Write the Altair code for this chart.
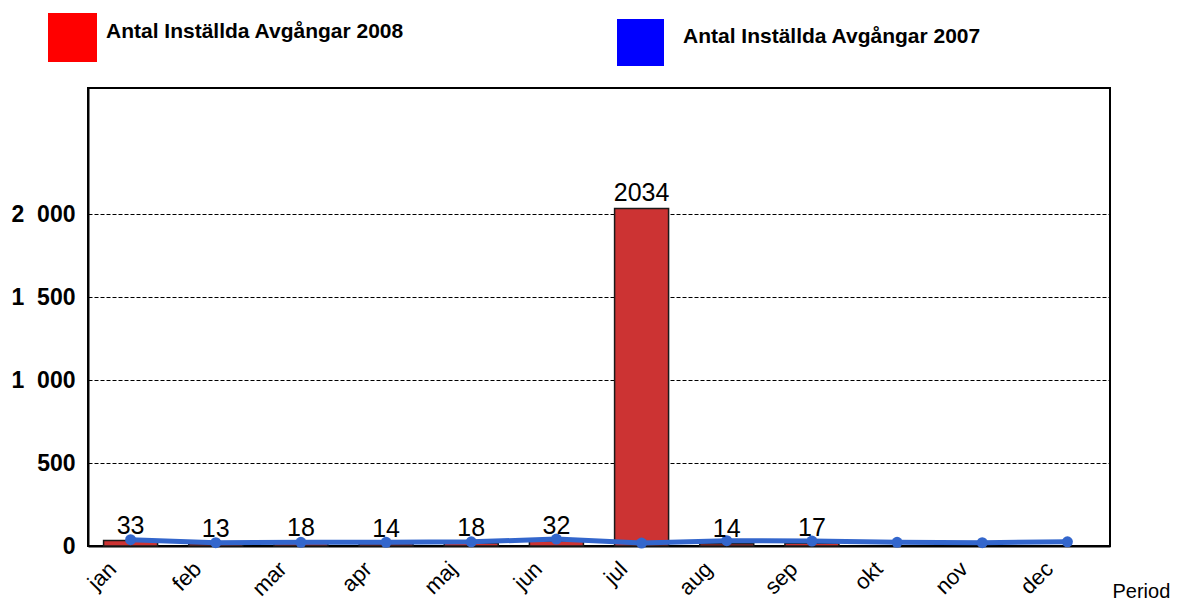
import altair as alt
import pandas as pd

months = ["jan", "feb", "mar", "apr", "maj", "jun", "jul", "aug", "sep", "okt", "nov", "dec"]
values_2008 = [33, 13, 18, 14, 18, 32, 2034, 14, 17, None, None, None]
values_2007 = [38, 20, 22, 22, 25, 42, 18, 32, 30, 22, 20, 25]
series_2008 = "Antal Inställda Avgångar 2008"
series_2007 = "Antal Inställda Avgångar 2007"
y_ticks = [0, 500, 1000, 1500, 2000]

df = pd.DataFrame({"month": months, "v2008": values_2008, "v2007": values_2007})

FONT = "Liberation Sans"

x_enc = alt.X(
    "month:N",
    sort=months,
    scale=alt.Scale(paddingInner=0.366, paddingOuter=0.183),
    axis=alt.Axis(
        title="Period",
        titleX=1024,
        titleY=51,
        titleAlign="left",
        titleAnchor="start",
        titleBaseline="alphabetic",
        titleFont=FONT,
        titleFontSize=20,
        titleFontWeight="normal",
        titleColor="black",
        labelAngle=-45,
        labelAlign="right",
        labelBaseline="top",
        labelFont=FONT,
        labelFontSize=22,
        labelColor="black",
        labelPadding=12,
        labelOffset=-25,
        ticks=False,
        domainColor="black",
        domainWidth=2,
        grid=False,
    ),
)

y_scale = alt.Scale(domain=[0, 2760], nice=False)
y_axis = alt.Axis(
    title=None,
    values=y_ticks,
    labelExpr="replace(format(datum.value, ','), ',', '\u2007')",
    labelFont=FONT,
    labelFontSize=23,
    labelFontWeight="bold",
    labelColor="black",
    labelPadding=13,
    ticks=False,
    domainColor="black",
    domainWidth=2,
    grid=True,
    gridColor="black",
    gridDash=[4, 2],
    gridWidth=1,
    gridOpacity=1,
)

base = alt.Chart(df)

bars = base.mark_bar(fill="#cc3333", stroke="#1a1a1a", strokeWidth=1.5).encode(
    x=x_enc,
    y=alt.Y("v2008:Q", scale=y_scale, axis=y_axis),
)

line = base.mark_line(color="#3366cc", strokeWidth=5).encode(
    x=alt.X("month:N", sort=months),
    y=alt.Y("v2007:Q", scale=y_scale),
)

points = base.mark_circle(color="#3366cc", size=120, opacity=1).encode(
    x=alt.X("month:N", sort=months),
    y=alt.Y("v2007:Q", scale=y_scale),
)

labels = base.transform_filter("isValid(datum.v2008)").mark_text(
    font=FONT, fontSize=25, color="black", baseline="alphabetic", dy=-7
).encode(
    x=alt.X("month:N", sort=months),
    y=alt.Y("v2008:Q", scale=y_scale),
    text=alt.Text("v2008:Q"),
)

leg1 = alt.Chart(pd.DataFrame({"series": [series_2008]})).mark_square(opacity=0).encode(
    color=alt.Color(
        "series:N",
        scale=alt.Scale(domain=[series_2008], range=["#ff0000"]),
        legend=alt.Legend(
            title=None,
            orient="none",
            legendX=-40,
            legendY=-75,
            padding=0,
            symbolType="square",
            symbolSize=2401,
            symbolOpacity=1,
            symbolStrokeWidth=0,
            labelFont=FONT,
            labelFontSize=21,
            labelFontWeight="bold",
            labelColor="black",
            labelBaseline="alphabetic",
            labelOffset=9,
            labelLimit=600,
        ),
    )
)

leg2 = alt.Chart(pd.DataFrame({"series": [series_2007]})).mark_square(opacity=0).encode(
    fill=alt.Fill(
        "series:N",
        scale=alt.Scale(domain=[series_2007], range=["#0000ff"]),
        legend=alt.Legend(
            title=None,
            orient="none",
            legendX=529,
            legendY=-69,
            padding=0,
            symbolType="square",
            symbolSize=2209,
            symbolOpacity=1,
            symbolStrokeWidth=0,
            labelFont=FONT,
            labelFontSize=21,
            labelFontWeight="bold",
            labelColor="black",
            labelBaseline="alphabetic",
            labelOffset=19,
            labelLimit=600,
        ),
    )
)

chart = (
    alt.layer(bars, line, points, labels, leg1, leg2)
    .resolve_scale(color="independent", fill="independent")
    .properties(
        width=1022,
        height=458,
        autosize=alt.AutoSizeParams(type="none"),
        padding={"left": 80, "top": 80, "right": 67, "bottom": 55},
        background="white",
    )
    .configure_view(stroke="black", strokeWidth=2)
)

chart.save("out.html", embed_options={"renderer": "svg", "actions": False})
